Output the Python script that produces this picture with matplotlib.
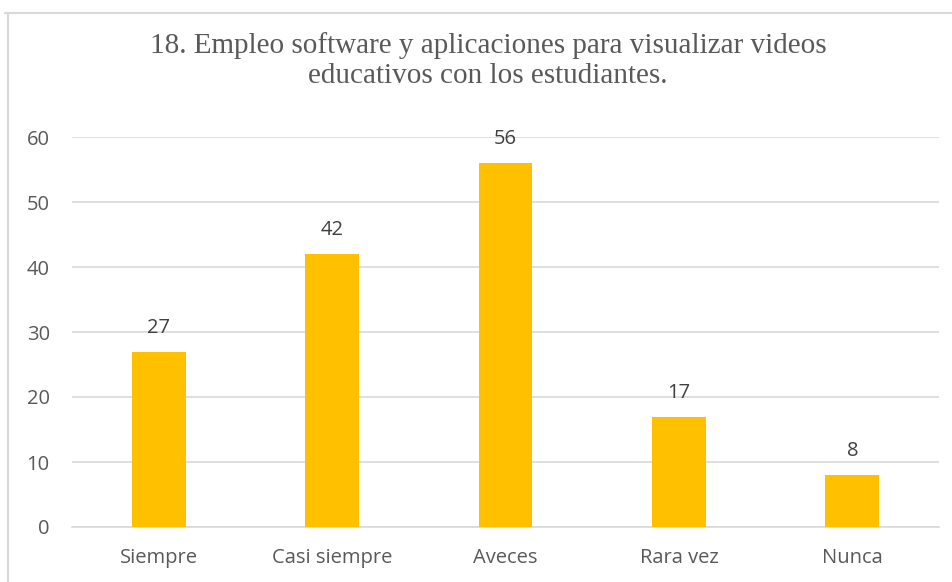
import matplotlib
matplotlib.use("Agg")
import matplotlib.pyplot as plt
from matplotlib.lines import Line2D

categories = ["Siempre", "Casi siempre", "Aveces", "Rara vez", "Nunca"]
values = [27, 42, 56, 17, 8]
yticks = [0, 10, 20, 30, 40, 50, 60]
title = "18. Empleo software y aplicaciones para visualizar videos\neducativos con los estudiantes."

fig = plt.figure(figsize=(9.52, 5.82), dpi=100)
ax = fig.add_axes([72/952, 1-527/582, (939-72)/952, (527-137)/582])

x = list(range(len(categories)))
bars = ax.bar(x, values, width=0.31, color="#FFC000", zorder=3)
ax.set_xlim(-0.5, len(categories)-0.5)
ax.set_ylim(0, 60)
ax.set_yticks(yticks)
ax.yaxis.grid(True, color="#D9D9D9", linewidth=1.2, zorder=0)
for s in ["top", "right", "left"]:
    ax.spines[s].set_visible(False)
ax.spines["bottom"].set_color("#D9D9D9")
ax.spines["bottom"].set_linewidth(1.2)
ax.tick_params(axis="both", length=0, labelsize=14.5, labelcolor="#595959")
ax.tick_params(axis="y", pad=16)
ax.tick_params(axis="x", pad=15)
ax.set_xticks(x)
ax.set_xticklabels(categories)
for lab in ax.get_xticklabels() + ax.get_yticklabels():
    lab.set_fontfamily("Open Sans")

for xi, v in zip(x, values):
    ax.annotate(str(v), (xi, v), xytext=(0, 10), textcoords="offset points",
                ha="center", va="bottom", fontsize=14.5, color="#404040",
                family="Open Sans")

fig.text(488/952, 1-61/582, title, ha="center", va="center",
         fontsize=21, family="Liberation Serif", color="#595959", linespacing=1.2)

fig.add_artist(Line2D([8/952, 8/952], [0, 1-13/582], transform=fig.transFigure,
                      color="#D9D9D9", linewidth=1.5))
fig.add_artist(Line2D([5/952, 1], [1-13/582, 1-13/582], transform=fig.transFigure,
                      color="#D9D9D9", linewidth=1.5))

fig.savefig("out.png", dpi=100)
